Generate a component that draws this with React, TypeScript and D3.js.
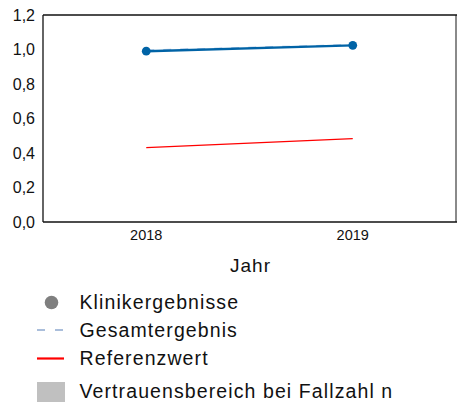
import * as React from "react";
import * as d3 from "d3";

// chart data
const years = ["2018", "2019"];
const klinik = [0.99, 1.024];
const gesamt = [0.996, 1.028];
const referenz = [0.431, 0.483];
const yTicks = [0, 0.2, 0.4, 0.6, 0.8, 1.0, 1.2];
const legendItems = ["Klinikergebnisse", "Gesamtergebnis", "Referenzwert", "Vertrauensbereich bei Fallzahl n"];

const W = 461;
const H = 403;
const M = { left: 43, top: 15, right: 456, bottom: 222 };
const FONT = "'Liberation Sans', Arial, sans-serif";

const App = () => {
  const x = d3.scalePoint<string>().domain(years).range([M.left, M.right]).padding(0.5);
  const y = d3.scaleLinear().domain([0, 1.2]).range([M.bottom, M.top]);
  const fmt = (v: number) => d3.format(".1f")(v).replace(".", ",");

  const line = d3.line<number>()
    .x((_, i) => x(years[i]) as number)
    .y(d => y(d));

  const legendY = [302.5, 330, 358.5, 391.5];
  const legendBase = [309, 336.5, 365, 397.5];

  return (
    <svg width={W} height={H} style={{ position: "absolute", left: 0, top: 0, background: "#fff" }}>
      {/* frame */}
      <line x1={M.right} x2={M.right} y1={M.top} y2={M.bottom} stroke="#8a8a8a" strokeWidth={2} />
      <line x1={M.left} x2={M.right + 1} y1={M.top} y2={M.top} stroke="#111" strokeWidth={1.3} />
      <line x1={M.left} x2={M.right + 1} y1={M.bottom} y2={M.bottom} stroke="#111" strokeWidth={1.3} />
      <line x1={M.left} x2={M.left} y1={M.top} y2={M.bottom} stroke="#111" strokeWidth={1.3} />

      {/* y ticks */}
      {yTicks.map(t => (
        <text key={t} x={35} y={y(t) + 5.6} textAnchor="end" fontFamily={FONT} fontSize={16} fill="#111">
          {fmt(t)}
        </text>
      ))}
      {/* x ticks */}
      {years.map(yr => (
        <text key={yr} x={x(yr)} y={240.3} textAnchor="middle" fontFamily={FONT} fontSize={14.5} fill="#111">
          {yr}
        </text>
      ))}
      <text x={(M.left + M.right) / 2 + 1} y={272} textAnchor="middle" fontFamily={FONT} fontSize={19} letterSpacing={1} fill="#111">
        Jahr
      </text>

      {/* reference line */}
      <path d={line(referenz) || ""} fill="none" stroke="#ff0000" strokeWidth={1.2} />
      {/* overall result */}
      <path d={line(gesamt) || ""} fill="none" stroke="#a8c4e4" strokeWidth={1.4} strokeDasharray="8,9" />
      {/* clinic line */}
      <path d={line(klinik) || ""} fill="none" stroke="#0063a6" strokeWidth={2.4} />
      {klinik.map((v, i) => (
        <circle key={i} cx={x(years[i])} cy={y(v)} r={4.4} fill="#0063a6" />
      ))}

      {/* legend */}
      <circle cx={51.5} cy={legendY[0]} r={6.8} fill="#7f7f7f" />
      <line x1={37} x2={64} y1={legendY[1]} y2={legendY[1]} stroke="#8fa9cf" strokeWidth={1.5} strokeDasharray="8,10" />
      <line x1={37} x2={64} y1={legendY[2]} y2={legendY[2]} stroke="#ff0000" strokeWidth={2.2} />
      <rect x={37} y={382} width={28} height={20} fill="#c0c0c0" />
      {legendItems.map((t, i) => (
        <text key={t} x={79.5} y={legendBase[i]} fontFamily={FONT} fontSize={19.5} letterSpacing={1.1} fill="#111">
          {t}
        </text>
      ))}
    </svg>
  );
};

export default App;
